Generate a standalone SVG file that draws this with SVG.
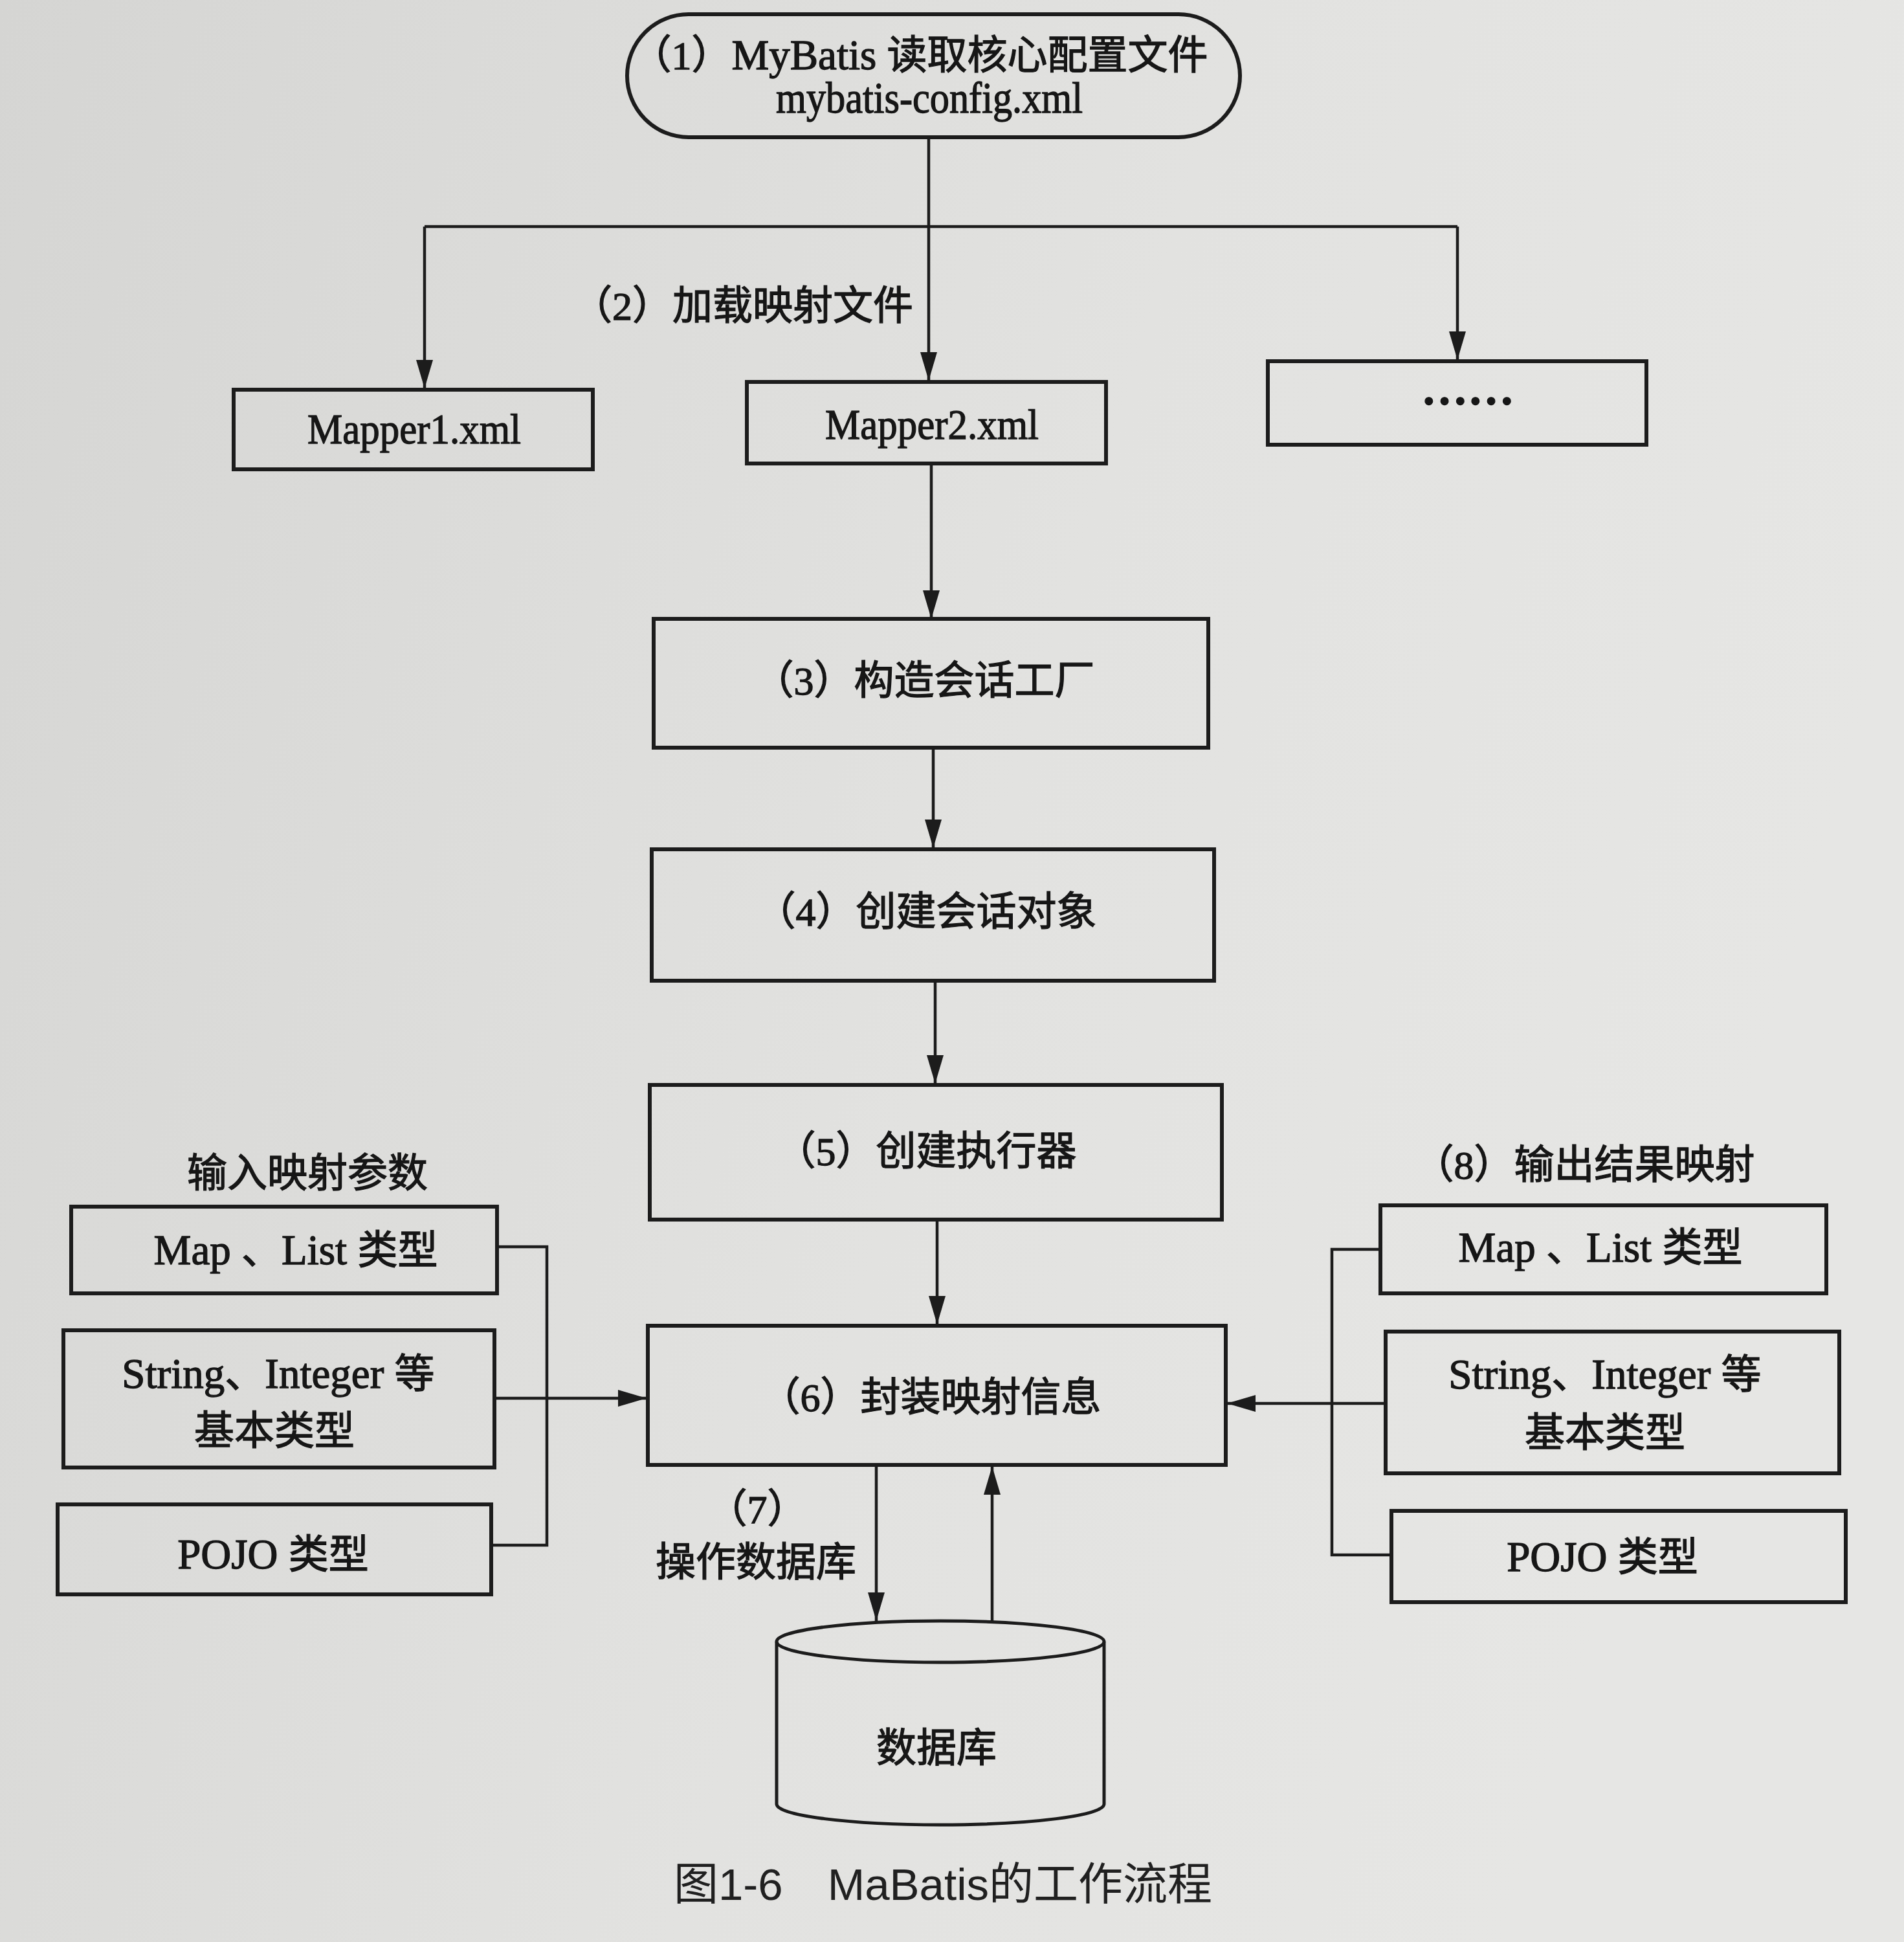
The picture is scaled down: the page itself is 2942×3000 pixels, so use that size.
<svg xmlns="http://www.w3.org/2000/svg" width="2942" height="3000" viewBox="0 0 2942 3000">
<defs>
<linearGradient id="bg" x1="0" y1="0" x2="1" y2="0.3">
<stop offset="0" stop-color="#d5d5d3"/>
<stop offset="0.6" stop-color="#e2e2e0"/>
<stop offset="1" stop-color="#e6e6e4"/>
</linearGradient>
<marker id="arr" viewBox="0 0 44 26" refX="44" refY="13" markerWidth="44" markerHeight="26" markerUnits="userSpaceOnUse" orient="auto">
<path d="M0,0 L44,13 L0,26 Z" fill="#1c1c1c"/>
</marker>
<style>
.box{fill:none;stroke:#1c1c1c;stroke-width:6}
.ln{fill:none;stroke:#1c1c1c;stroke-width:4.5}
.t{font-family:"Liberation Serif","Noto Sans CJK SC",serif;font-size:62px;fill:#161616;stroke:#161616;stroke-width:1.3;text-anchor:middle}
.l{font-size:65px}
.cap{font-family:"Liberation Sans","Noto Sans CJK SC",sans-serif;font-size:69px;fill:#202020;text-anchor:middle}
</style>
</defs>
<rect x="0" y="0" width="2942" height="3000" fill="url(#bg)"/>

<g id="connectors">
<path class="ln" d="M1435,212 V588" marker-end="url(#arr)"/>
<path class="ln" d="M656,350 H2252"/>
<path class="ln" d="M656,350 V600" marker-end="url(#arr)"/>
<path class="ln" d="M2252,350 V556" marker-end="url(#arr)"/>
<path class="ln" d="M1439,716 V956" marker-end="url(#arr)"/>
<path class="ln" d="M1442,1155 V1310" marker-end="url(#arr)"/>
<path class="ln" d="M1445,1515 V1674" marker-end="url(#arr)"/>
<path class="ln" d="M1448,1884 V2046" marker-end="url(#arr)"/>
<path class="ln" d="M768,1926 H845 V2387 H759"/>
<path class="ln" d="M764,2160 H999" marker-end="url(#arr)"/>
<path class="ln" d="M2133,1930 H2058 V2402 H2150"/>
<path class="ln" d="M2141,2168 H1896" marker-end="url(#arr)"/>
<path class="ln" d="M1354,2263 V2504" marker-end="url(#arr)"/>
<path class="ln" d="M1533,2505 V2265" marker-end="url(#arr)"/>
</g>

<g id="n1">
<rect class="box" x="969" y="22" width="947" height="190" rx="95" ry="95"/>
<text class="t" x="1421" y="107">（1）<tspan class="l">MyBatis </tspan>读取核心配置文件</text>
<text class="t" x="1436" y="174" style="font-size:67px" textLength="474" lengthAdjust="spacingAndGlyphs">mybatis-config.xml</text>
</g>

<g id="label2">
<text class="t" x="1411" y="494" style="text-anchor:end">（2）加载映射文件</text>
</g>

<g id="mapper1">
<rect class="box" x="361" y="602" width="555" height="123"/>
<text class="t" x="640" y="685" style="font-size:66px" textLength="330" lengthAdjust="spacingAndGlyphs">Mapper1.xml</text>
</g>

<g id="mapper2">
<rect class="box" x="1154" y="590" width="555" height="126"/>
<text class="t" x="1440" y="678" style="font-size:66px" textLength="330" lengthAdjust="spacingAndGlyphs">Mapper2.xml</text>
</g>

<g id="more">
<rect class="box" x="1959" y="558" width="585" height="129"/>
<text class="t" x="2268" y="625" style="font-size:72px;font-weight:bold">……</text>
</g>

<g id="n3">
<rect class="box" x="1010" y="956" width="857" height="199"/>
<text class="t" x="1428" y="1073">（3）构造会话工厂</text>
</g>

<g id="n4">
<rect class="box" x="1007" y="1312" width="869" height="203"/>
<text class="t" x="1431" y="1430">（4）创建会话对象</text>
</g>

<g id="n5">
<rect class="box" x="1004" y="1676" width="884" height="208"/>
<text class="t" x="1431" y="1800">（5）创建执行器</text>
</g>

<g id="n6">
<rect class="box" x="1001" y="2048" width="893" height="215"/>
<text class="t" x="1438" y="2180">（6）封装映射信息</text>
</g>

<g id="in-label">
<text class="t" x="475" y="1834">输入映射参数</text>
</g>

<g id="in-map">
<rect class="box" x="110" y="1864" width="658" height="134"/>
<text class="t" x="457" y="1953"><tspan class="l">Map </tspan>、<tspan class="l">List </tspan>类型</text>
</g>

<g id="in-string">
<rect class="box" x="98" y="2055" width="666" height="212"/>
<text class="t" x="430" y="2144"><tspan class="l">String</tspan>、<tspan class="l">Integer </tspan>等</text>
<text class="t" x="424" y="2232">基本类型</text>
</g>

<g id="in-pojo">
<rect class="box" x="89" y="2324" width="670" height="139"/>
<text class="t" x="422" y="2423"><tspan class="l">POJO </tspan>类型</text>
</g>

<g id="out-label">
<text class="t" x="2448" y="1821">（8）输出结果映射</text>
</g>

<g id="out-map">
<rect class="box" x="2133" y="1862" width="689" height="136"/>
<text class="t" x="2473" y="1949"><tspan class="l">Map </tspan>、<tspan class="l">List </tspan>类型</text>
</g>

<g id="out-string">
<rect class="box" x="2141" y="2057" width="701" height="219"/>
<text class="t" x="2480" y="2145"><tspan class="l">String</tspan>、<tspan class="l">Integer </tspan>等</text>
<text class="t" x="2480" y="2235">基本类型</text>
</g>

<g id="out-pojo">
<rect class="box" x="2150" y="2334" width="702" height="141"/>
<text class="t" x="2476" y="2427"><tspan class="l">POJO </tspan>类型</text>
</g>

<g id="label7">
<text class="t" x="1170" y="2353">（7）</text>
<text class="t" x="1168" y="2435">操作数据库</text>
</g>

<g id="db">
<path class="box" d="M1200,2536 V2787 A253,32 0 0 0 1706,2787 V2536" style="stroke-width:5"/>
<ellipse class="box" cx="1453" cy="2536" rx="253" ry="32" style="stroke-width:5"/>
<text class="t" x="1447" y="2722">数据库</text>
</g>

<g id="caption">
<text class="cap" x="1457" y="2935">图1-6　MaBatis的工作流程</text>
</g>
</svg>
